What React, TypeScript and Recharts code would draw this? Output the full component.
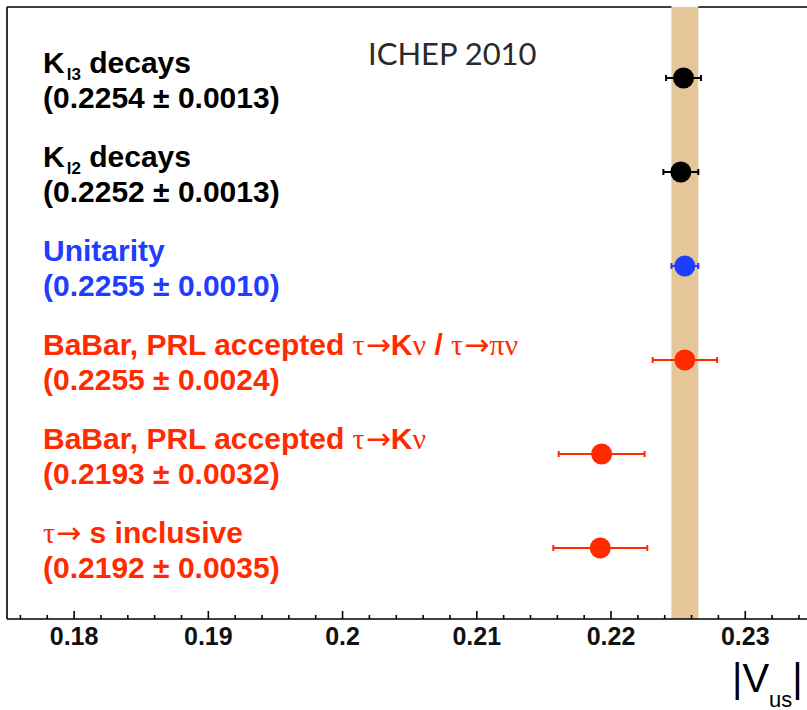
import {
  ScatterChart,
  Scatter,
  XAxis,
  YAxis,
  ErrorBar,
  ReferenceArea,
  ReferenceLine,
} from "recharts";

// |Vus| determinations, top row first
const VUS = [0.2254, 0.2252, 0.2255, 0.2255, 0.2193, 0.2192];
const VUS_ERR = [0.0013, 0.0013, 0.001, 0.0024, 0.0032, 0.0035];
const ROW_POS = [5, 4, 3, 2, 1, 0];
const ROW_COLORS = ["#000000", "#000000", "#1f3dff", "#ff2a00", "#ff2a00", "#ff2a00"];

// unitarity band = row 2 value +- error
const BAND_ROW = 2;

const X_MIN = 0.175;
const X_MAX = 0.2346;
const Y_PAD = 0.755;

const MAJOR_TICKS = [0.18, 0.19, 0.2, 0.21, 0.22, 0.23];
const MINOR_TICKS = [
  0.176, 0.178, 0.182, 0.184, 0.186, 0.188, 0.192, 0.194, 0.196, 0.198, 0.202, 0.204,
  0.206, 0.208, 0.212, 0.214, 0.216, 0.218, 0.222, 0.224, 0.226, 0.228, 0.232, 0.234,
];

const SANS = "'Liberation Sans', Arial, Helvetica, sans-serif";
const GREEK = "'Liberation Serif', 'DejaVu Serif', serif";
const ARROW = "'DejaVu Sans', sans-serif";

const W = 807;
const H = 710;

const rows = VUS.map((v, i) => ({ x: v, y: ROW_POS[i], err: VUS_ERR[i], idx: i }));
const blackRows = rows.filter((r) => ROW_COLORS[r.idx] === "#000000");
const blueRows = rows.filter((r) => ROW_COLORS[r.idx] === "#1f3dff");
const redRows = rows.filter((r) => ROW_COLORS[r.idx] === "#ff2a00");
const labelRows = rows.map((r) => ({ ...r, x: X_MIN }));

const bandLo = VUS[BAND_ROW] - VUS_ERR[BAND_ROW];
const bandHi = VUS[BAND_ROW] + VUS_ERR[BAND_ROW];
const yTop = ROW_POS[0] + Y_PAD;

const G = ({ children }: { children: string }) => (
  <tspan fontFamily={GREEK} fontWeight="normal">
    {children}
  </tspan>
);
const Arrow = () => (
  <tspan fontFamily={ARROW} fontWeight="normal" dx={1}>
    →
  </tspan>
);

function rowTitle(i: number) {
  switch (i) {
    case 0:
    case 1:
      return (
        <>
          K
          <tspan fontSize={17} dx={2} dy={7}>
            {i === 0 ? "l3" : "l2"}
          </tspan>
          <tspan dy={-7}> decays</tspan>
        </>
      );
    case 2:
      return "Unitarity";
    case 3:
      return (
        <>
          BaBar, PRL accepted <G>τ</G>
          <Arrow />K<G>ν</G> / <G>τ</G>
          <Arrow />
          <G>πν</G>
        </>
      );
    case 4:
      return (
        <>
          BaBar, PRL accepted <G>τ</G>
          <Arrow />K<G>ν</G>
        </>
      );
    default:
      return (
        <>
          <G>τ</G>
          <Arrow /> s inclusive
        </>
      );
  }
}

function RowLabel(props: any) {
  const { cx, cy, payload } = props;
  const i = payload.idx;
  const x = cx + 36;
  return (
    <g fill={ROW_COLORS[i]} fontFamily={SANS} fontWeight="bold" fontSize={30}>
      <text x={x} y={cy - 5}>
        {rowTitle(i)}
      </text>
      <text x={x} y={cy + 30}>
        ({VUS[i].toFixed(4)} ± {VUS_ERR[i].toFixed(4)})
      </text>
    </g>
  );
}

const dot = (color: string) => (props: any) =>
  <circle cx={props.cx} cy={props.cy} r={10.5} fill={color} />;

function AxisTick(props: any) {
  const { x, y, payload } = props;
  const major = MAJOR_TICKS.some((t) => Math.abs(t - payload.value) < 1e-6);
  return (
    <g>
      <line x1={x} y1={y} x2={x} y2={y - (major ? 8 : 4)} stroke="#000" strokeWidth={1.6} />
      {major && (
        <text
          x={x}
          y={y + 26}
          textAnchor="middle"
          fontFamily={SANS}
          fontWeight="bold"
          fontSize={25}
          fill="#111"
        >
          {payload.value}
        </text>
      )}
    </g>
  );
}

function AxisTitle(props: any) {
  const vb = props.viewBox;
  return (
    <text x={vb.x + 725} y={vb.y + 73} fontFamily={SANS} fontSize={40} fill="#000">
      |V
      <tspan fontSize={22} dy={15}>
        us
      </tspan>
      <tspan dy={-15}>|</tspan>
    </text>
  );
}

export default function App() {
  const ticks = [...MAJOR_TICKS, ...MINOR_TICKS].sort((a, b) => a - b);
  return (
    <div style={{ position: "absolute", left: 0, top: 0, width: W, height: H, background: "#fff" }}>
      <ScatterChart width={W} height={H} margin={{ top: 7, right: 0, bottom: 0, left: 7 }}>
        <XAxis
          type="number"
          dataKey="x"
          domain={[X_MIN, X_MAX]}
          allowDataOverflow
          ticks={ticks}
          interval={0}
          tick={<AxisTick />}
          tickLine={false}
          tickSize={0}
          tickMargin={0}
          axisLine={{ stroke: "#000", strokeWidth: 1.6 }}
          height={91}
          label={(p: any) => <AxisTitle {...p} />}
        />
        <YAxis type="number" dataKey="y" domain={[-Y_PAD, yTop]} hide />

        <ReferenceArea x1={bandLo} x2={bandHi} y1={-Y_PAD} y2={yTop} fill="#e4c698" fillOpacity={1} stroke="none" />

        {/* frame: left edge and top edge (top is broken by the band) */}
        <ReferenceLine x={X_MIN} stroke="#000" strokeWidth={1.6} />
        <ReferenceLine segment={[{ x: X_MIN, y: yTop }, { x: bandLo, y: yTop }]} stroke="#000" strokeWidth={1.6} />
        <ReferenceLine segment={[{ x: bandHi, y: yTop }, { x: X_MAX, y: yTop }]} stroke="#000" strokeWidth={1.6} />

        <Scatter data={labelRows} shape={RowLabel} isAnimationActive={false} />

        <Scatter data={blackRows} shape={dot("#000000")} isAnimationActive={false}>
          <ErrorBar dataKey="err" direction="x" width={3} stroke="#000" strokeWidth={2} />
        </Scatter>
        <Scatter data={blueRows} shape={dot("#1f3dff")} isAnimationActive={false}>
          <ErrorBar dataKey="err" direction="x" width={3} stroke="#1f3dff" strokeWidth={2} />
        </Scatter>
        <Scatter data={redRows} shape={dot("#ff2a00")} isAnimationActive={false}>
          <ErrorBar dataKey="err" direction="x" width={3} stroke="#ff2a00" strokeWidth={2} />
        </Scatter>
      </ScatterChart>

      <svg width={W} height={H} style={{ position: "absolute", left: 0, top: 0, pointerEvents: "none" }}>
        <text x={368} y={65} fontFamily="Lato, 'Open Sans', sans-serif" fontSize={31} fill="#2a2a2a">
          ICHEP 2010
        </text>
      </svg>
    </div>
  );
}
